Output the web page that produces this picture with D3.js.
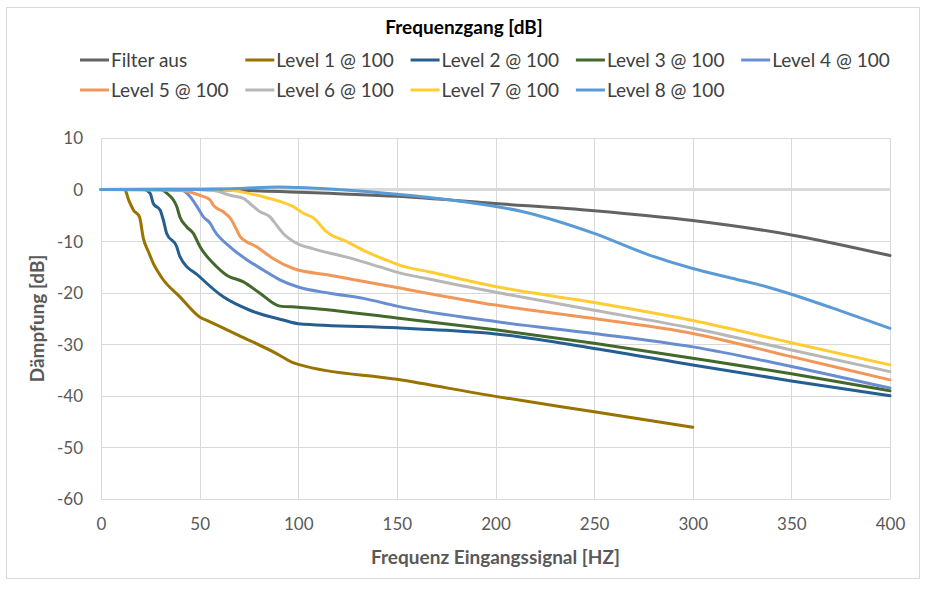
<!DOCTYPE html>
<html><head><meta charset="utf-8">
<script src="https://cdn.jsdelivr.net/npm/d3@7"></script>
<style>body{margin:0;background:#fff;}svg{display:block;font-family:Lato,"Open Sans",sans-serif;}</style>
</head><body><svg id="c" width="927" height="592"></svg>
<script>
const seriesNames = ["Filter aus","Level 1 @ 100","Level 2 @ 100","Level 3 @ 100","Level 4 @ 100","Level 5 @ 100","Level 6 @ 100","Level 7 @ 100","Level 8 @ 100"];
const seriesColors = ["#636363","#997300","#255E91","#43682B","#698ED0","#F1975A","#B7B7B7","#FFCD33","#5B9BD5"];
const xTicks = [0,50,100,150,200,250,300,350,400];
const yTicks = [10,0,-10,-20,-30,-40,-50,-60];

const fFilter = [0,50,100,150,200,250,300,350,400];
const dbFilter = [0,0,-0.5,-1.3,-2.7,-4.1,-6.0,-8.8,-12.8];
const fL1 = [0,12,14,16.5,19.5,21.5,24,26.5,29,31,40,50,55,70,89,97,101,150,200,250,300];
const dbL1 = [0,0,-2,-4,-5.3,-9.5,-12,-14.3,-16,-17.2,-20.8,-24.7,-25.6,-28.3,-31.8,-33.5,-34,-36.8,-40.1,-43.1,-46.1];
const fL2 = [0,22,25,26.5,30,31.6,33.3,38.4,40,50,62,75.5,92.4,100,150,175,200,250,300,350,400];
const dbL2 = [0,0,-0.8,-2.7,-4,-5.9,-8.5,-11.1,-13,-16.9,-20.8,-23.4,-25.3,-26,-26.8,-27.3,-28,-30.8,-34,-37.1,-40];
const fL3 = [0,30,33.3,38.4,40,43.4,46.8,50.2,56.9,63.7,72.2,80.6,90.7,100,150,200,250,300,350,400];
const dbL3 = [0,0,-0.7,-3.3,-5.3,-7.2,-8.5,-11.1,-14.3,-16.6,-17.9,-20.1,-22.6,-22.8,-24.9,-27.2,-29.8,-32.7,-35.7,-39];
const fL4 = [0,40,45,48.5,51.9,55.3,57.5,65.4,73.9,82.3,90.7,100,116,133,150,200,250,300,350,400];
const dbL4 = [0,0,-1.3,-3.2,-5.3,-6.5,-8,-11.1,-13.6,-15.6,-17.5,-18.9,-20.1,-21.1,-22.6,-25.6,-27.9,-30.5,-34.3,-38.5];
const fL5 = [0,40,50,55.3,56.9,62,65.4,68.8,70.5,78.9,87.4,97.5,116,150,200,250,300,350,400];
const dbL5 = [0,-0.2,-1.1,-2,-3,-4.3,-5.5,-7.8,-9.1,-11.1,-13.4,-15.3,-16.6,-19,-22.4,-25,-27.9,-32.4,-36.9];
const fL6 = [0,40,57,65.4,72.2,75.5,80.6,85.7,89,92.4,99.2,107.7,124.6,141.4,150,166.8,200,250,300,350,400];
const dbL6 = [0,0.1,-0.2,-1.1,-1.7,-2.7,-4.3,-5.3,-6.9,-8.5,-10.4,-11.5,-13.1,-15,-16,-17.4,-19.9,-23.4,-26.9,-31.1,-35.3];
const fL7 = [0,57,70.5,82.3,90.7,97.5,102.6,107.7,114.4,124.6,134.7,144.8,151.6,166.8,200,250,300,350,400];
const dbL7 = [0,0.2,-0.4,-1.4,-2.3,-3.3,-4.6,-5.5,-8.2,-10.1,-12.1,-13.7,-14.7,-16,-18.8,-21.9,-25.4,-29.7,-34];
const fL8 = [0,50,70,90,100,120,150,177,214,250,278,300,320,337,350,371,400];
const dbL8 = [0,0,0.2,0.5,0.4,0,-0.9,-2,-4.3,-8.5,-12.7,-15.3,-17.2,-18.8,-20.3,-23,-26.9];

const seriesF = [fFilter,fL1,fL2,fL3,fL4,fL5,fL6,fL7,fL8];
const seriesDb = [dbFilter,dbL1,dbL2,dbL3,dbL4,dbL5,dbL6,dbL7,dbL8];

const svg = d3.select("#c");
svg.append("rect").attr("x",6.5).attr("y",7.5).attr("width",913).attr("height",571)
  .attr("fill","#fff").attr("stroke","#D9D9D9").attr("stroke-width",1);

const x = d3.scaleLinear().domain([0,400]).range([101,890]);
const y = d3.scaleLinear().domain([-60,10]).range([499,138]);

const grid = svg.append("g");
grid.selectAll("line.h").data(yTicks).join("line").attr("class","h")
  .attr("x1",x(0)).attr("x2",x(400)).attr("y1",d=>Math.round(y(d))+0.5).attr("y2",d=>Math.round(y(d))+0.5)
  .attr("stroke","#D9D9D9").attr("stroke-width",1);
grid.selectAll("line.v").data(xTicks).join("line").attr("class","v")
  .attr("y1",y(10)).attr("y2",y(-60)).attr("x1",d=>Math.round(x(d))+0.5).attr("x2",d=>Math.round(x(d))+0.5)
  .attr("stroke","#D9D9D9").attr("stroke-width",1);
// zero axis line
svg.append("line").attr("x1",x(0)).attr("x2",x(400)).attr("y1",y(0)).attr("y2",y(0))
  .attr("stroke","#D9D9D9").attr("stroke-width",3);

// axes tick labels
const fmt = d => String(d);
const yAxis = d3.axisLeft(y).tickValues(yTicks).tickSize(0).tickPadding(0).tickFormat(fmt);
const ya = svg.append("g").attr("transform","translate(83,0)").call(yAxis);
ya.select(".domain").remove();
ya.selectAll("text").attr("font-size",17).attr("fill","#595959").attr("font-family","Lato,sans-serif").attr("dy","0.35em");

const xAxis = d3.axisBottom(x).tickValues(xTicks).tickSize(0).tickPadding(0).tickFormat(fmt);
const xa = svg.append("g").attr("transform","translate(0,518)").call(xAxis);
xa.select(".domain").remove();
xa.selectAll("text").attr("font-size",17).attr("fill","#595959").attr("font-family","Lato,sans-serif").attr("dy","0.71em");

// series
const line = d3.line().x(d=>x(d[0])).y(d=>y(d[1])).curve(d3.curveMonotoneX);
const sg = svg.append("g");
seriesNames.forEach((n,i)=>{
  const pts = seriesF[i].map((f,j)=>[f,seriesDb[i][j]]);
  sg.append("path").datum(pts).attr("d",line).attr("fill","none")
    .attr("stroke",seriesColors[i]).attr("stroke-width",3).attr("stroke-linejoin","round").attr("stroke-linecap","round");
});

// title
svg.append("text").attr("x",464).attr("y",34).attr("text-anchor","middle")
  .attr("font-size",19).attr("font-weight","bold").attr("fill","#000").text("Frequenzgang [dB]");

// legend
const legend = svg.append("g");
seriesNames.forEach((n,i)=>{
  const row = i<5?0:1, col = i<5?i:i-5;
  const lx = 80 + col*165.3, ly = row===0?60:90;
  legend.append("line").attr("x1",lx).attr("x2",lx+29).attr("y1",ly).attr("y2",ly)
    .attr("stroke",seriesColors[i]).attr("stroke-width",3);
  legend.append("text").attr("x",lx+31).attr("y",ly).attr("dy","0.35em")
    .attr("font-size",19).attr("fill","#404040").text(n);
});

// axis titles
svg.append("text").attr("x",495.5).attr("y",564).attr("text-anchor","middle")
  .attr("font-size",19).attr("font-weight","bold").attr("fill","#595959").text("Frequenz Eingangssignal [HZ]");
svg.append("text").attr("transform","translate(44,318.5) rotate(-90)").attr("text-anchor","middle")
  .attr("font-size",19).attr("font-weight","bold").attr("fill","#595959").text("Dämpfung [dB]");
</script></body></html>
